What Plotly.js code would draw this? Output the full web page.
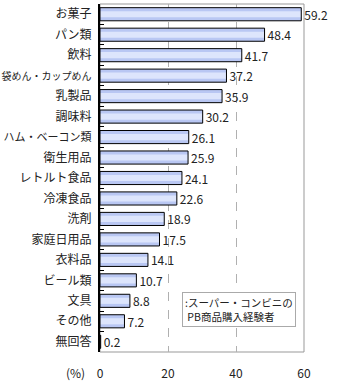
<!DOCTYPE html>
<html><head><meta charset="utf-8">
<script src="https://cdn.plot.ly/plotly-3.0.1.min.js"></script>
<style>html,body{margin:0;padding:0;background:#fff}#chart{width:340px;height:383px}</style>
</head><body><div id="chart"></div>
<script>
const categories = ["お菓子","パン類","飲料","袋めん・カップめん","乳製品","調味料","ハム・ベーコン類","衛生用品","レトルト食品","冷凍食品","洗剤","家庭日用品","衣料品","ビール類","文具","その他","無回答"];
const values = [59.2,48.4,41.7,37.2,35.9,30.2,26.1,25.9,24.1,22.6,18.9,17.5,14.1,10.7,8.8,7.2,0.2];
const valueLabels = values.map(v => v.toFixed(1));
const xTicks = [0,20,40,60];
const seriesName = ":スーパー・コンビニの<br> PB商品購入経験者";

const font = "'Noto Sans CJK JP', 'Liberation Sans', sans-serif";
// shrink long labels so they fit the left margin
const tickText = categories.map(c => c.length > 7 ? '<span style="font-size:' + Math.floor(92 / c.length) + 'px">' + c + '</span>' : c);
const traces = [
  {type:'bar', orientation:'h', y:categories, x:values, width:0.64,
   marker:{color:'#b9c7f3', line:{width:0}}, hoverinfo:'skip', showlegend:false},
  {type:'bar', orientation:'h', y:categories, x:values, width:0.3,
   marker:{color:'#dde5fc', line:{width:0}}, hoverinfo:'skip', showlegend:false},
  {type:'bar', orientation:'h', y:categories, x:values, width:0.64,
   marker:{color:'rgba(0,0,0,0)', line:{color:'#000', width:1}},
   text:valueLabels, textposition:'outside', cliponaxis:false, constraintext:'none',
   textfont:{family:font, size:12, color:'#222'}, hoverinfo:'skip', showlegend:false}
];
const layout = {
  width:340, height:383, margin:{l:100, r:36, t:4, b:31},
  paper_bgcolor:'#fff', plot_bgcolor:'#fff', barmode:'overlay',
  font:{family:font, size:12, color:'#222'},
  xaxis:{range:[0,60], tickvals:xTicks, ticktext:xTicks.map(String), showgrid:true, gridcolor:'#b0b0b0', griddash:'dash',
         zeroline:false, showline:false, ticks:'', ticklabelstandoff:13, fixedrange:true},
  yaxis:{autorange:'reversed', showline:true, linecolor:'#000', linewidth:2, ticks:'inside', tickson:'boundaries',
         ticklen:4, tickcolor:'#000', showgrid:false, zeroline:false, ticklabelstandoff:4,
         tickmode:'array', tickvals:categories, ticktext:tickText},
  shapes:[{type:'rect', xref:'paper', yref:'paper', x0:0, x1:1, y0:0, y1:1, line:{color:'#999', width:1}, layer:'below'}],
  annotations:[
    {text:'(%)', xref:'paper', yref:'paper', x:-0.12, y:0, xanchor:'center', yanchor:'middle', yshift:-20, showarrow:false, font:{size:12}},
    {text:seriesName, xref:'paper', yref:'paper', x:0.4, y:0.172, xanchor:'left', yanchor:'top', align:'left',
     showarrow:false, bgcolor:'#fff', bordercolor:'#aaa', borderwidth:1, borderpad:2, font:{size:10.5}}
  ]
};
Plotly.newPlot('chart', traces, layout, {displayModeBar:false, staticPlot:true});
</script></body></html>
